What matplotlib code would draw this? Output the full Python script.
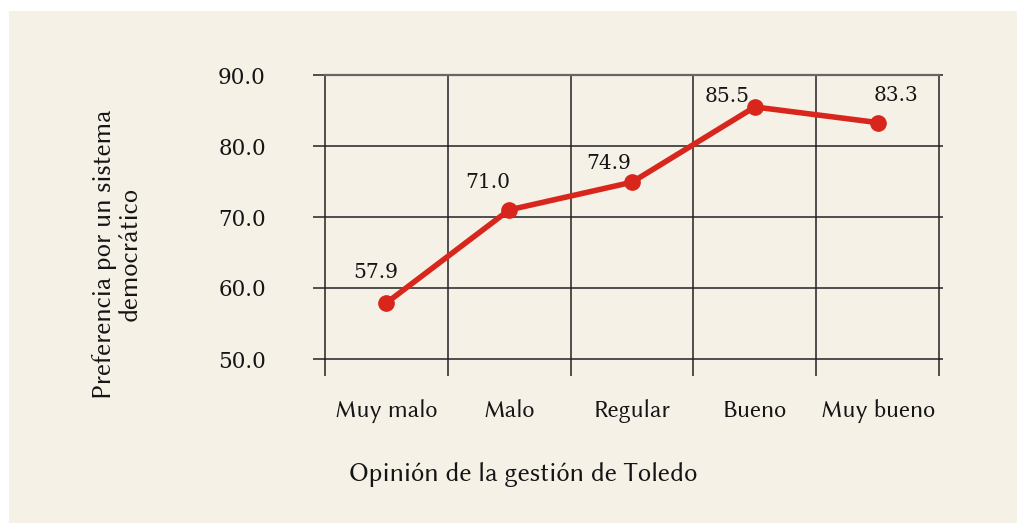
import matplotlib
matplotlib.use("Agg")
import matplotlib.pyplot as plt
from matplotlib.patches import Rectangle
from matplotlib.ticker import FixedLocator, NullFormatter

categories = ["Muy malo", "Malo", "Regular", "Bueno", "Muy bueno"]
values = [57.9, 71.0, 74.9, 85.5, 83.3]
value_labels = ["57.9", "71.0", "74.9", "85.5", "83.3"]
y_ticks = [50.0, 60.0, 70.0, 80.0, 90.0]
y_tick_labels = ["50.0", "60.0", "70.0", "80.0", "90.0"]
x_label = "Opinión de la gestión de Toledo"
y_label = "Preferencia por un sistema\ndemocrático"

BG = "#f5f1e7"
RED = "#d9261c"
INK = "#151515"
W, H = 1017, 523
SANS = ["Libertinus Sans", "DejaVu Sans"]
SERIF = ["DejaVu Serif"]

fig = plt.figure(figsize=(W / 100, H / 100), dpi=100, facecolor="white")
fig.patches.append(Rectangle((9 / W, 0), 1 - 9 / W, 1 - 11 / H, transform=fig.transFigure,
                             facecolor=BG, edgecolor="none", zorder=-5))

ax = fig.add_axes([325 / W, (H - 359) / H, 614 / W, 284 / H])
ax.set_facecolor(BG)
n = len(categories)
ax.set_xlim(-0.5, n - 0.5)
ax.set_ylim(50, 90)

x = list(range(n))
ax.plot(x, values, color=RED, lw=4.0, marker="o", ms=11, zorder=5, solid_capstyle="round")

# label offsets in pixels (dx right, dy up)
offsets = [(-11, 30), (-21, 27), (-23, 19), (-28, 10), (18, 27)]
for xi, v, lab, off in zip(x, values, value_labels, offsets):
    ax.annotate(lab, (xi, v), xytext=(off[0] * 0.72, off[1] * 0.72), textcoords="offset points",
                ha="center", va="center", fontsize=14.5, family=SERIF, color=INK, zorder=6)

ax.set_yticks(y_ticks)
ax.set_yticklabels(y_tick_labels, family=SERIF, fontsize=15.5, color=INK)
ax.tick_params(axis="y", which="major", direction="out", length=8.6, width=1.1, color="#222222", pad=34,
               right=True, labelright=False)
for t in ax.yaxis.get_major_ticks():
    t.tick2line.set_markersize(2.9)
for yt in y_ticks[1:-1]:
    ax.axhline(yt, color="#222222", lw=1.1, zorder=1)

ax.set_xticks(x)
ax.set_xticklabels(categories, family=SANS, fontsize=17.5, color=INK)
ax.tick_params(axis="x", which="major", length=0, pad=29)
ax.xaxis.set_minor_locator(FixedLocator([i - 0.5 for i in range(n + 1)]))
ax.xaxis.set_minor_formatter(NullFormatter())
ax.tick_params(axis="x", which="minor", direction="out", length=12.2, width=1.1, color="#222222")
for i in range(1, n):
    ax.axvline(i - 0.5, color="#222222", lw=1.1, zorder=1)

for s in ["left", "right", "bottom"]:
    ax.spines[s].set_color("#222222")
    ax.spines[s].set_linewidth(1.1)
ax.spines["top"].set_color("#666666")
ax.spines["top"].set_linewidth(1.6)

fig.text(523 / W, 1 - 474 / H, x_label, ha="center", va="center", fontsize=19.2,
         family=SANS, color=INK)
fig.text(117 / W, 1 - 254 / H, y_label, ha="center", va="center", rotation=90, fontsize=19,
         family=SANS, color=INK, linespacing=1.05)

fig.savefig("out.png", dpi=100, facecolor="white")
